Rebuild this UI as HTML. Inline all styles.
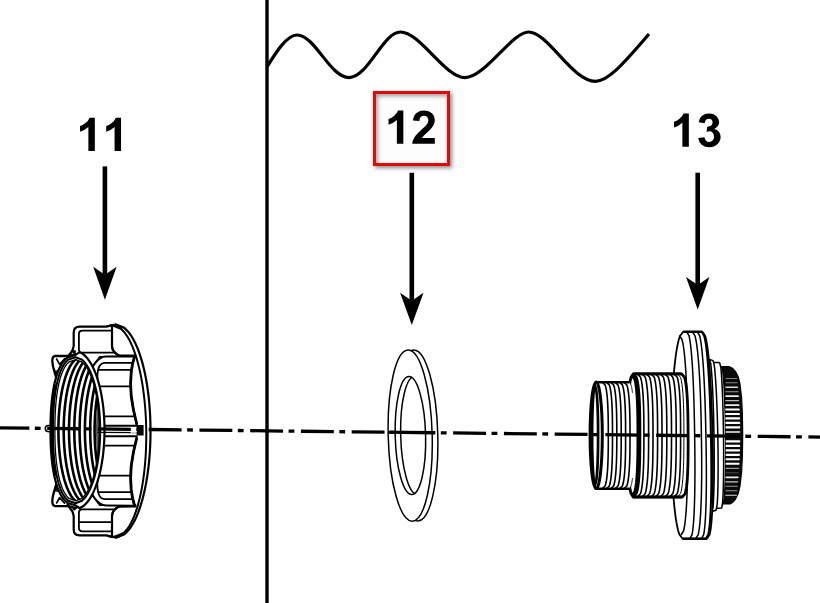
<!DOCTYPE html>
<html><head><meta charset="utf-8"><title>Parts diagram</title>
<style>
html,body{margin:0;padding:0;background:#fff;}
body{width:820px;height:603px;overflow:hidden;position:relative;font-family:"Liberation Sans",sans-serif;}
svg{position:absolute;left:0;top:0;display:block;}
#box{position:absolute;left:373.2px;top:90.8px;width:70.8px;height:69px;border:3.2px solid #e40808;background:#fdfdfd;
 box-shadow:1.5px 2px 4px rgba(0,0,0,.45), inset 1.5px 2px 4px rgba(0,0,0,.4);}
</style></head><body>
<svg width="820" height="603" viewBox="0 0 820 603">
<rect x="0" y="0" width="820" height="603" fill="#fefefe"/>
<line x1="267" y1="0" x2="267" y2="603" stroke="#000" stroke-width="3.4"/>
<path d="M267,67 C276,52 287,35 297,35 C315,35 330,77.6 349,77.6 C368,77.6 383,32 400.5,32 C420,32 445,77.6 465,77.6 C485,77.6 512,32 528.5,32 C548,32 572,81.3 595.5,81.3 C607,81.3 620,68 649,34" fill="none" stroke="#000" stroke-width="3.2" stroke-linecap="butt"/>
<line x1="104.9" y1="166.4" x2="104.9" y2="274.7" stroke="#000" stroke-width="4.6"/>
<path d="M93.2,266.7 L104.9,274.7 L116.6,266.7 L104.9,299.8Z" fill="#000"/>
<line x1="411.8" y1="172.7" x2="411.8" y2="300.7" stroke="#000" stroke-width="4.6"/>
<path d="M400.1,292.7 L411.8,300.7 L423.5,292.7 L411.8,325.1Z" fill="#000"/>
<line x1="697.7" y1="172.7" x2="697.7" y2="285.1" stroke="#000" stroke-width="4.6"/>
<path d="M686,277.1 L697.7,285.1 L709.4,277.1 L697.7,309.6Z" fill="#000"/>
<g transform="rotate(-1.44 410.3 435.6)" fill="none" stroke="#000" stroke-width="1.5">
<ellipse cx="415.8" cy="435.6" rx="22" ry="85.6" fill="#fff"/>
<ellipse cx="410.2" cy="435.6" rx="22" ry="85.6" fill="#fff"/>
<clipPath id="rc"><ellipse cx="410.4" cy="435.6" rx="15.2" ry="59"/></clipPath>
<ellipse cx="410.4" cy="435.6" rx="15.2" ry="59" fill="#fff"/>
<ellipse cx="415.9" cy="435.6" rx="15.2" ry="59" clip-path="url(#rc)"/>
</g>
<g fill="none" stroke="#000" stroke-width="1.4" stroke-linejoin="round">
<path d="M713.2,362.4 L718.6,362.4 L719.8,363.2 L720.77,367.22 L721.18,371.24 L721.5,375.27 L721.76,379.29 L721.99,383.31 L722.19,387.33 L722.37,391.36 L722.53,395.38 L722.67,399.4 L722.81,403.42 L722.93,407.44 L723.04,411.47 L723.14,415.49 L723.23,419.51 L723.31,423.53 L723.38,427.56 L723.45,431.58 L723.5,435.6 L723.55,439.62 L723.58,443.64 L723.61,447.67 L723.63,451.69 L723.64,455.71 L723.64,459.73 L723.63,463.76 L723.61,467.78 L723.57,471.8 L723.53,475.82 L723.47,479.84 L723.39,483.87 L723.29,487.89 L723.16,491.91 L723,495.93 L722.78,499.96 L722.47,503.98 L721.6,508 L716.2,508.2Z" fill="#fff" stroke-width="1.5"/>
<path d="M709.6,359.4 L710.72,363.62 L711.2,367.85 L711.57,372.07 L711.88,376.3 L712.15,380.52 L712.39,384.75 L712.6,388.97 L712.79,393.2 L712.97,397.42 L713.13,401.65 L713.28,405.88 L713.42,410.1 L713.54,414.32 L713.65,418.55 L713.76,422.77 L713.85,427 L713.93,431.22 L714,435.45 L714.06,439.68 L714.11,443.9 L714.16,448.12 L714.19,452.35 L714.21,456.57 L714.22,460.8 L714.21,465.02 L714.2,469.25 L714.17,473.48 L714.13,477.7 L714.07,481.93 L713.99,486.15 L713.88,490.38 L713.74,494.6 L713.57,498.82 L713.33,503.05 L712.99,507.27 L712,511.5 L716,510.2 L717,506.04 L717.35,501.89 L717.57,497.73 L717.74,493.58 L717.87,489.42 L717.96,485.27 L718.03,481.11 L718.08,476.96 L718.11,472.8 L718.12,468.64 L718.12,464.49 L718.11,460.33 L718.09,456.18 L718.05,452.02 L718,447.87 L717.95,443.71 L717.88,439.56 L717.8,435.4 L717.71,431.24 L717.61,427.09 L717.5,422.93 L717.38,418.78 L717.25,414.62 L717.11,410.47 L716.96,406.31 L716.79,402.16 L716.61,398 L716.41,393.84 L716.2,389.69 L715.96,385.53 L715.7,381.38 L715.41,377.22 L715.07,373.07 L714.68,368.91 L714.17,364.76 L713,360.6Z" fill="#fff" stroke-width="1.5"/>
<path d="M721.4,366.6 L722.53,370.41 L723,374.23 L723.35,378.04 L723.64,381.86 L723.89,385.67 L724.11,389.48 L724.3,393.3 L724.48,397.11 L724.63,400.93 L724.77,404.74 L724.9,408.55 L725.01,412.37 L725.11,416.18 L725.2,419.99 L725.28,423.81 L725.35,427.62 L725.4,431.44 L725.45,435.25 L725.49,439.06 L725.51,442.88 L725.53,446.69 L725.53,450.51 L725.53,454.32 L725.51,458.13 L725.48,461.95 L725.44,465.76 L725.38,469.57 L725.31,473.39 L725.22,477.2 L725.11,481.02 L724.97,484.83 L724.81,488.64 L724.6,492.46 L724.33,496.27 L723.94,500.09 L722.9,503.9 L730,503.9 L732.5,502.5 L735.5,499 L738,494 L740,486 L741.6,472 L742.4,455 L742.7,435 L742.4,415 L741.6,398 L740,384 L738,376.2 L735.5,371.6 L732.5,368.2 L729,366.6Z" fill="#0a0a0a" stroke="#000" stroke-width="1.2"/>
<clipPath id="capc"><path d="M721.4,366.6 L722.53,370.41 L723,374.23 L723.35,378.04 L723.64,381.86 L723.89,385.67 L724.11,389.48 L724.3,393.3 L724.48,397.11 L724.63,400.93 L724.77,404.74 L724.9,408.55 L725.01,412.37 L725.11,416.18 L725.2,419.99 L725.28,423.81 L725.35,427.62 L725.4,431.44 L725.45,435.25 L725.49,439.06 L725.51,442.88 L725.53,446.69 L725.53,450.51 L725.53,454.32 L725.51,458.13 L725.48,461.95 L725.44,465.76 L725.38,469.57 L725.31,473.39 L725.22,477.2 L725.11,481.02 L724.97,484.83 L724.81,488.64 L724.6,492.46 L724.33,496.27 L723.94,500.09 L722.9,503.9 L730,503.9 L732.5,502.5 L735.5,499 L738,494 L740,486 L741.6,472 L742.4,455 L742.7,435 L742.4,415 L741.6,398 L740,384 L738,376.2 L735.5,371.6 L732.5,368.2 L729,366.6Z"/></clipPath>
<g clip-path="url(#capc)" stroke="none">
<rect x="725.2" y="426.15" width="15.05" height="2.3" fill="#fff" rx="0.8"/>
<rect x="725.2" y="421.7" width="14.97" height="2.3" fill="#fff" rx="0.8"/>
<rect x="725.2" y="417.3" width="14.85" height="2.2" fill="#fff" rx="0.8"/>
<rect x="725.2" y="412.9" width="14.7" height="2.1" fill="#fff" rx="0.8"/>
<rect x="725.2" y="408.5" width="14.51" height="2" fill="#fff" rx="0.8"/>
<rect x="725.2" y="404.15" width="14.29" height="1.8" fill="#eee" rx="0.8"/>
<rect x="725.2" y="399.9" width="14.03" height="1.4" fill="#bbb" rx="0.8"/>
<rect x="725.2" y="395.35" width="13.74" height="1.6" fill="#eee" rx="0.8"/>
<rect x="725.2" y="391.2" width="13.41" height="1" fill="#999" rx="0.8"/>
<rect x="725.2" y="386.55" width="13.05" height="1.4" fill="#ddd" rx="0.8"/>
<rect x="725.2" y="382.35" width="12.65" height="0.9" fill="#888" rx="0.8"/>
<rect x="725.2" y="377.95" width="12.21" height="0.8" fill="#aaa" rx="0.8"/>
<rect x="725.2" y="440.15" width="15.06" height="2.3" fill="#fff" rx="0.8"/>
<rect x="725.2" y="444.65" width="15" height="2.3" fill="#fff" rx="0.8"/>
<rect x="725.2" y="449.15" width="14.89" height="2.3" fill="#fff" rx="0.8"/>
<rect x="725.2" y="453.7" width="14.75" height="2.2" fill="#fff" rx="0.8"/>
<rect x="725.2" y="458.25" width="14.57" height="2.1" fill="#fff" rx="0.8"/>
<rect x="725.2" y="462.85" width="14.35" height="1.9" fill="#fff" rx="0.8"/>
<rect x="725.2" y="467.65" width="14.1" height="1.3" fill="#999" rx="0.8"/>
<rect x="725.2" y="472.4" width="13.81" height="0.8" fill="#666" rx="0.8"/>
<rect x="725.2" y="476.45" width="13.49" height="1.7" fill="#eee" rx="0.8"/>
<rect x="725.2" y="481.2" width="13.13" height="1.2" fill="#ccc" rx="0.8"/>
<rect x="725.2" y="485.85" width="12.73" height="0.9" fill="#999" rx="0.8"/>
<rect x="725.2" y="490.35" width="12.3" height="0.9" fill="#999" rx="0.8"/>
<rect x="725.2" y="494.8" width="11.83" height="1" fill="#ddd" rx="0.8"/>
<rect x="725.2" y="431.15" width="15.09" height="1.5" fill="#f4f4f4" rx="0.8"/>
</g>
<path d="M683.2,331.8 L679.97,335.94 L678.67,340.08 L677.7,344.21 L676.91,348.35 L676.24,352.49 L675.65,356.63 L675.14,360.77 L674.67,364.9 L674.26,369.04 L673.88,373.18 L673.54,377.32 L673.23,381.46 L672.96,385.59 L672.71,389.73 L672.48,393.87 L672.28,398.01 L672.1,402.15 L671.94,406.28 L671.81,410.42 L671.69,414.56 L671.6,418.7 L671.52,422.84 L671.46,426.97 L671.42,431.11 L671.4,435.25 L671.4,439.39 L671.41,443.53 L671.45,447.66 L671.5,451.8 L671.57,455.94 L671.66,460.08 L671.78,464.22 L671.91,468.35 L672.06,472.49 L672.24,476.63 L672.44,480.77 L672.67,484.91 L672.92,489.04 L673.2,493.18 L673.52,497.32 L673.87,501.46 L674.26,505.6 L674.7,509.73 L675.2,513.87 L675.76,518.01 L676.41,522.15 L677.17,526.29 L678.12,530.42 L679.39,534.56 L682.6,538.7 L707,538.7 L709.64,534.56 L710.47,530.42 L711.03,526.29 L711.45,522.15 L711.79,518.01 L712.06,513.87 L712.28,509.73 L712.46,505.6 L712.6,501.46 L712.72,497.32 L712.82,493.18 L712.89,489.04 L712.94,484.91 L712.97,480.77 L712.99,476.63 L713,472.49 L712.98,468.35 L712.96,464.22 L712.92,460.08 L712.88,455.94 L712.82,451.8 L712.75,447.66 L712.67,443.53 L712.59,439.39 L712.5,435.25 L712.41,431.11 L712.31,426.97 L712.2,422.84 L712.08,418.7 L711.96,414.56 L711.82,410.42 L711.67,406.28 L711.51,402.15 L711.34,398.01 L711.15,393.87 L710.95,389.73 L710.73,385.59 L710.5,381.46 L710.24,377.32 L709.96,373.18 L709.66,369.04 L709.33,364.9 L708.96,360.77 L708.56,356.63 L708.11,352.49 L707.59,348.35 L706.98,344.21 L706.24,340.08 L705.22,335.94 L702.4,331.8Z" fill="#fff" stroke-width="1.8"/>
<path d="M683.2,331.8 L702.4,331.8 M682.6,538.7 L707,538.7" stroke-width="2.4"/>
<path d="M679.4,335.5 L682.02,339.49 L682.93,343.48 L683.58,347.47 L684.1,351.46 L684.54,355.45 L684.91,359.44 L685.24,363.43 L685.53,367.42 L685.79,371.41 L686.02,375.4 L686.23,379.39 L686.42,383.38 L686.59,387.37 L686.74,391.36 L686.87,395.35 L687,399.34 L687.1,403.33 L687.2,407.32 L687.29,411.31 L687.36,415.3 L687.42,419.29 L687.48,423.28 L687.53,427.27 L687.57,431.26 L687.6,435.25 L687.63,439.24 L687.65,443.23 L687.67,447.22 L687.68,451.21 L687.68,455.2 L687.67,459.19 L687.65,463.18 L687.62,467.17 L687.57,471.16 L687.51,475.15 L687.44,479.14 L687.35,483.13 L687.25,487.12 L687.13,491.11 L686.98,495.1 L686.81,499.09 L686.62,503.08 L686.39,507.07 L686.13,511.06 L685.82,515.05 L685.44,519.04 L684.99,523.03 L684.4,527.02 L683.56,531.01 L681,535" stroke-width="1.5"/>
<path d="M686.8,331.8 L689.07,335.94 L689.87,340.08 L690.46,344.21 L690.94,348.35 L691.35,352.49 L691.7,356.63 L692.02,360.77 L692.3,364.9 L692.55,369.04 L692.79,373.18 L693,377.32 L693.19,381.46 L693.37,385.59 L693.53,389.73 L693.68,393.87 L693.82,398.01 L693.95,402.15 L694.07,406.28 L694.17,410.42 L694.27,414.56 L694.36,418.7 L694.44,422.84 L694.52,426.97 L694.59,431.11 L694.65,435.25 L694.71,439.39 L694.77,443.53 L694.82,447.66 L694.86,451.8 L694.89,455.94 L694.92,460.08 L694.94,464.22 L694.94,468.35 L694.94,472.49 L694.92,476.63 L694.9,480.77 L694.86,484.91 L694.8,489.04 L694.73,493.18 L694.65,497.32 L694.54,501.46 L694.41,505.6 L694.25,509.73 L694.06,513.87 L693.83,518.01 L693.54,522.15 L693.19,526.29 L692.73,530.42 L692.05,534.56 L689.9,538.7" stroke-width="1.5"/>
<path d="M692.4,331.8 L695.04,335.94 L695.97,340.08 L696.65,344.21 L697.2,348.35 L697.67,352.49 L698.08,356.63 L698.44,360.77 L698.76,364.9 L699.05,369.04 L699.32,373.18 L699.56,377.32 L699.78,381.46 L699.98,385.59 L700.17,389.73 L700.34,393.87 L700.49,398.01 L700.63,402.15 L700.76,406.28 L700.88,410.42 L700.99,414.56 L701.09,418.7 L701.18,422.84 L701.26,426.97 L701.33,431.11 L701.4,435.25 L701.46,439.39 L701.52,443.53 L701.57,447.66 L701.62,451.8 L701.65,455.94 L701.67,460.08 L701.69,464.22 L701.69,468.35 L701.68,472.49 L701.66,476.63 L701.62,480.77 L701.57,484.91 L701.5,489.04 L701.41,493.18 L701.3,497.32 L701.17,501.46 L701.01,505.6 L700.82,509.73 L700.59,513.87 L700.31,518.01 L699.98,522.15 L699.56,526.29 L699.01,530.42 L698.21,534.56 L695.7,538.7" stroke-width="1.5"/>
<path d="M697.4,331.8 L699.74,335.94 L700.58,340.08 L701.21,344.21 L701.71,348.35 L702.15,352.49 L702.53,356.63 L702.87,360.77 L703.18,364.9 L703.46,369.04 L703.71,373.18 L703.95,377.32 L704.17,381.46 L704.37,385.59 L704.55,389.73 L704.73,393.87 L704.89,398.01 L705.04,402.15 L705.17,406.28 L705.3,410.42 L705.42,414.56 L705.53,418.7 L705.63,422.84 L705.73,426.97 L705.82,431.11 L705.9,435.25 L705.98,439.39 L706.06,443.53 L706.12,447.66 L706.19,451.8 L706.24,455.94 L706.29,460.08 L706.32,464.22 L706.35,468.35 L706.36,472.49 L706.37,476.63 L706.36,480.77 L706.34,484.91 L706.3,489.04 L706.24,493.18 L706.17,497.32 L706.08,501.46 L705.96,505.6 L705.82,509.73 L705.64,513.87 L705.43,518.01 L705.16,522.15 L704.81,526.29 L704.36,530.42 L703.68,534.56 L701.5,538.7" stroke-width="1.5"/>
<path d="M701.6,331.8 L704.21,335.94 L705.14,340.08 L705.82,344.21 L706.38,348.35 L706.86,352.49 L707.28,356.63 L707.65,360.77 L707.99,364.9 L708.29,369.04 L708.57,373.18 L708.83,377.32 L709.06,381.46 L709.28,385.59 L709.48,389.73 L709.67,393.87 L709.84,398.01 L710,402.15 L710.14,406.28 L710.28,410.42 L710.4,414.56 L710.52,418.7 L710.62,422.84 L710.72,426.97 L710.81,431.11 L710.9,435.25 L710.98,439.39 L711.06,443.53 L711.13,447.66 L711.19,451.8 L711.24,455.94 L711.29,460.08 L711.32,464.22 L711.34,468.35 L711.35,472.49 L711.35,476.63 L711.33,480.77 L711.3,484.91 L711.25,489.04 L711.18,493.18 L711.09,497.32 L710.98,501.46 L710.84,505.6 L710.68,509.73 L710.47,513.87 L710.22,518.01 L709.91,522.15 L709.52,526.29 L709,530.42 L708.24,534.56 L705.8,538.7" stroke-width="2.0"/>
<path d="M633.2,373.9 L681.6,373.9 L684.63,377.32 L685.46,380.74 L686.02,384.16 L686.44,387.58 L686.77,391 L687.03,394.42 L687.25,397.84 L687.43,401.26 L687.58,404.67 L687.7,408.09 L687.8,411.51 L687.88,414.93 L687.94,418.35 L687.99,421.77 L688.03,425.19 L688.06,428.61 L688.08,432.03 L688.1,435.45 L688.12,438.87 L688.13,442.29 L688.13,445.71 L688.13,449.13 L688.11,452.55 L688.08,455.97 L688.03,459.39 L687.97,462.81 L687.88,466.23 L687.76,469.64 L687.62,473.06 L687.43,476.48 L687.2,479.9 L686.9,483.32 L686.52,486.74 L686,490.16 L685.2,493.58 L682.2,497 L633.2,497 L633.2,497 L631.06,493.58 L630.22,490.16 L629.61,486.74 L629.11,483.32 L628.7,479.9 L628.36,476.48 L628.05,473.06 L627.8,469.64 L627.57,466.23 L627.38,462.81 L627.21,459.39 L627.07,455.97 L626.96,452.55 L626.86,449.13 L626.79,445.71 L626.74,442.29 L626.71,438.87 L626.7,435.45 L626.71,432.03 L626.74,428.61 L626.79,425.19 L626.86,421.77 L626.96,418.35 L627.07,414.93 L627.21,411.51 L627.38,408.09 L627.57,404.67 L627.8,401.26 L628.05,397.84 L628.36,394.42 L628.7,391 L629.11,387.58 L629.61,384.16 L630.22,380.74 L631.06,377.32 L633.2,373.9Z" fill="#fff" stroke-width="2.8"/>
<path d="M633.2,373.9 L681.6,373.9 M633.2,497 L682.2,497" stroke-width="2.6"/>
<path d="M632.4,374.9 L635.56,378.26 L636.42,381.63 L636.98,384.99 L637.4,388.36 L637.73,391.72 L637.99,395.08 L638.2,398.45 L638.37,401.81 L638.51,405.17 L638.62,408.54 L638.71,411.9 L638.77,415.27 L638.82,418.63 L638.86,421.99 L638.88,425.36 L638.89,428.72 L638.9,432.09 L638.9,435.45 L638.9,438.81 L638.89,442.18 L638.88,445.54 L638.86,448.91 L638.82,452.27 L638.77,455.63 L638.71,459 L638.62,462.36 L638.51,465.73 L638.37,469.09 L638.2,472.45 L637.99,475.82 L637.73,479.18 L637.4,482.54 L636.98,485.91 L636.42,489.27 L635.56,492.64 L632.4,496" stroke-width="4.8"/>
<path d="M637.4,373.9 L640.56,377.32 L641.42,380.74 L641.98,384.16 L642.4,387.58 L642.73,391 L642.99,394.42 L643.2,397.84 L643.37,401.26 L643.51,404.67 L643.62,408.09 L643.71,411.51 L643.77,414.93 L643.82,418.35 L643.86,421.77 L643.88,425.19 L643.89,428.61 L643.9,432.03 L643.9,435.45 L643.9,438.87 L643.89,442.29 L643.88,445.71 L643.86,449.13 L643.82,452.55 L643.77,455.97 L643.71,459.39 L643.62,462.81 L643.51,466.23 L643.37,469.64 L643.2,473.06 L642.99,476.48 L642.73,479.9 L642.4,483.32 L641.98,486.74 L641.42,490.16 L640.56,493.58 L637.4,497" stroke-width="1.6"/>
<path d="M642.1,373.9 L645.26,377.32 L646.12,380.74 L646.68,384.16 L647.1,387.58 L647.43,391 L647.69,394.42 L647.9,397.84 L648.07,401.26 L648.21,404.67 L648.32,408.09 L648.41,411.51 L648.47,414.93 L648.52,418.35 L648.56,421.77 L648.58,425.19 L648.59,428.61 L648.6,432.03 L648.6,435.45 L648.6,438.87 L648.59,442.29 L648.58,445.71 L648.56,449.13 L648.52,452.55 L648.47,455.97 L648.41,459.39 L648.32,462.81 L648.21,466.23 L648.07,469.64 L647.9,473.06 L647.69,476.48 L647.43,479.9 L647.1,483.32 L646.68,486.74 L646.12,490.16 L645.26,493.58 L642.1,497" stroke-width="1.6"/>
<path d="M646.5,373.9 L649.66,377.32 L650.52,380.74 L651.08,384.16 L651.5,387.58 L651.83,391 L652.09,394.42 L652.3,397.84 L652.47,401.26 L652.61,404.67 L652.72,408.09 L652.81,411.51 L652.87,414.93 L652.92,418.35 L652.96,421.77 L652.98,425.19 L652.99,428.61 L653,432.03 L653,435.45 L653,438.87 L652.99,442.29 L652.98,445.71 L652.96,449.13 L652.92,452.55 L652.87,455.97 L652.81,459.39 L652.72,462.81 L652.61,466.23 L652.47,469.64 L652.3,473.06 L652.09,476.48 L651.83,479.9 L651.5,483.32 L651.08,486.74 L650.52,490.16 L649.66,493.58 L646.5,497" stroke-width="1.6"/>
<path d="M651.1,373.9 L654.26,377.32 L655.12,380.74 L655.68,384.16 L656.1,387.58 L656.43,391 L656.69,394.42 L656.9,397.84 L657.07,401.26 L657.21,404.67 L657.32,408.09 L657.41,411.51 L657.47,414.93 L657.52,418.35 L657.56,421.77 L657.58,425.19 L657.59,428.61 L657.6,432.03 L657.6,435.45 L657.6,438.87 L657.59,442.29 L657.58,445.71 L657.56,449.13 L657.52,452.55 L657.47,455.97 L657.41,459.39 L657.32,462.81 L657.21,466.23 L657.07,469.64 L656.9,473.06 L656.69,476.48 L656.43,479.9 L656.1,483.32 L655.68,486.74 L655.12,490.16 L654.26,493.58 L651.1,497" stroke-width="1.6"/>
<path d="M655.5,373.9 L658.66,377.32 L659.52,380.74 L660.08,384.16 L660.5,387.58 L660.83,391 L661.09,394.42 L661.3,397.84 L661.47,401.26 L661.61,404.67 L661.72,408.09 L661.81,411.51 L661.87,414.93 L661.92,418.35 L661.96,421.77 L661.98,425.19 L661.99,428.61 L662,432.03 L662,435.45 L662,438.87 L661.99,442.29 L661.98,445.71 L661.96,449.13 L661.92,452.55 L661.87,455.97 L661.81,459.39 L661.72,462.81 L661.61,466.23 L661.47,469.64 L661.3,473.06 L661.09,476.48 L660.83,479.9 L660.5,483.32 L660.08,486.74 L659.52,490.16 L658.66,493.58 L655.5,497" stroke-width="1.6"/>
<path d="M660.3,373.9 L663.46,377.32 L664.32,380.74 L664.88,384.16 L665.3,387.58 L665.63,391 L665.89,394.42 L666.1,397.84 L666.27,401.26 L666.41,404.67 L666.52,408.09 L666.61,411.51 L666.67,414.93 L666.72,418.35 L666.76,421.77 L666.78,425.19 L666.79,428.61 L666.8,432.03 L666.8,435.45 L666.8,438.87 L666.79,442.29 L666.78,445.71 L666.76,449.13 L666.72,452.55 L666.67,455.97 L666.61,459.39 L666.52,462.81 L666.41,466.23 L666.27,469.64 L666.1,473.06 L665.89,476.48 L665.63,479.9 L665.3,483.32 L664.88,486.74 L664.32,490.16 L663.46,493.58 L660.3,497" stroke-width="1.6"/>
<path d="M665,373.9 L668.16,377.32 L669.02,380.74 L669.58,384.16 L670,387.58 L670.33,391 L670.59,394.42 L670.8,397.84 L670.97,401.26 L671.11,404.67 L671.22,408.09 L671.31,411.51 L671.37,414.93 L671.42,418.35 L671.46,421.77 L671.48,425.19 L671.49,428.61 L671.5,432.03 L671.5,435.45 L671.5,438.87 L671.49,442.29 L671.48,445.71 L671.46,449.13 L671.42,452.55 L671.37,455.97 L671.31,459.39 L671.22,462.81 L671.11,466.23 L670.97,469.64 L670.8,473.06 L670.59,476.48 L670.33,479.9 L670,483.32 L669.58,486.74 L669.02,490.16 L668.16,493.58 L665,497" stroke-width="1.6"/>
<path d="M669.7,373.9 L672.86,377.32 L673.72,380.74 L674.28,384.16 L674.7,387.58 L675.03,391 L675.29,394.42 L675.5,397.84 L675.67,401.26 L675.81,404.67 L675.92,408.09 L676.01,411.51 L676.07,414.93 L676.12,418.35 L676.16,421.77 L676.18,425.19 L676.19,428.61 L676.2,432.03 L676.2,435.45 L676.2,438.87 L676.19,442.29 L676.18,445.71 L676.16,449.13 L676.12,452.55 L676.07,455.97 L676.01,459.39 L675.92,462.81 L675.81,466.23 L675.67,469.64 L675.5,473.06 L675.29,476.48 L675.03,479.9 L674.7,483.32 L674.28,486.74 L673.72,490.16 L672.86,493.58 L669.7,497" stroke-width="1.6"/>
<path d="M674.1,373.9 L677.26,377.32 L678.12,380.74 L678.68,384.16 L679.1,387.58 L679.43,391 L679.69,394.42 L679.9,397.84 L680.07,401.26 L680.21,404.67 L680.32,408.09 L680.41,411.51 L680.47,414.93 L680.52,418.35 L680.56,421.77 L680.58,425.19 L680.59,428.61 L680.6,432.03 L680.6,435.45 L680.6,438.87 L680.59,442.29 L680.58,445.71 L680.56,449.13 L680.52,452.55 L680.47,455.97 L680.41,459.39 L680.32,462.81 L680.21,466.23 L680.07,469.64 L679.9,473.06 L679.69,476.48 L679.43,479.9 L679.1,483.32 L678.68,486.74 L678.12,490.16 L677.26,493.58 L674.1,497" stroke-width="1.6"/>
<path d="M677.4,373.9 L680.56,377.32 L681.42,380.74 L681.98,384.16 L682.4,387.58 L682.73,391 L682.99,394.42 L683.2,397.84 L683.37,401.26 L683.51,404.67 L683.62,408.09 L683.71,411.51 L683.77,414.93 L683.82,418.35 L683.86,421.77 L683.88,425.19 L683.89,428.61 L683.9,432.03 L683.9,435.45 L683.9,438.87 L683.89,442.29 L683.88,445.71 L683.86,449.13 L683.82,452.55 L683.77,455.97 L683.71,459.39 L683.62,462.81 L683.51,466.23 L683.37,469.64 L683.2,473.06 L682.99,476.48 L682.73,479.9 L682.4,483.32 L681.98,486.74 L681.42,490.16 L680.56,493.58 L677.4,497" stroke-width="1.0"/>
<path d="M596,382.2 L628.6,382.2 L631.52,385.16 L632.31,388.12 L632.83,391.07 L633.22,394.03 L633.52,396.99 L633.76,399.95 L633.95,402.91 L634.11,405.87 L634.24,408.82 L634.34,411.78 L634.42,414.74 L634.48,417.7 L634.53,420.66 L634.56,423.62 L634.58,426.57 L634.59,429.53 L634.6,432.49 L634.6,435.45 L634.6,438.41 L634.59,441.37 L634.58,444.32 L634.56,447.28 L634.53,450.24 L634.48,453.2 L634.42,456.16 L634.34,459.12 L634.24,462.07 L634.11,465.03 L633.95,467.99 L633.76,470.95 L633.52,473.91 L633.22,476.87 L632.83,479.82 L632.31,482.78 L631.52,485.74 L628.6,488.7 L596,488.7Z" fill="#fff" stroke="none"/>
<path d="M596,382.2 L629,382.2 M596,488.7 L629,488.7" stroke-width="2.6"/>
<path d="M602.3,382.2 L605.22,385.16 L606.01,388.12 L606.53,391.07 L606.92,394.03 L607.22,396.99 L607.46,399.95 L607.65,402.91 L607.81,405.87 L607.94,408.82 L608.04,411.78 L608.12,414.74 L608.18,417.7 L608.23,420.66 L608.26,423.62 L608.28,426.57 L608.29,429.53 L608.3,432.49 L608.3,435.45 L608.3,438.41 L608.29,441.37 L608.28,444.32 L608.26,447.28 L608.23,450.24 L608.18,453.2 L608.12,456.16 L608.04,459.12 L607.94,462.07 L607.81,465.03 L607.65,467.99 L607.46,470.95 L607.22,473.91 L606.92,476.87 L606.53,479.82 L606.01,482.78 L605.22,485.74 L602.3,488.7" stroke-width="1.6"/>
<path d="M606.5,382.2 L609.42,385.16 L610.21,388.12 L610.73,391.07 L611.12,394.03 L611.42,396.99 L611.66,399.95 L611.85,402.91 L612.01,405.87 L612.14,408.82 L612.24,411.78 L612.32,414.74 L612.38,417.7 L612.43,420.66 L612.46,423.62 L612.48,426.57 L612.49,429.53 L612.5,432.49 L612.5,435.45 L612.5,438.41 L612.49,441.37 L612.48,444.32 L612.46,447.28 L612.43,450.24 L612.38,453.2 L612.32,456.16 L612.24,459.12 L612.14,462.07 L612.01,465.03 L611.85,467.99 L611.66,470.95 L611.42,473.91 L611.12,476.87 L610.73,479.82 L610.21,482.78 L609.42,485.74 L606.5,488.7" stroke-width="1.6"/>
<path d="M610.8,382.2 L613.72,385.16 L614.51,388.12 L615.03,391.07 L615.42,394.03 L615.72,396.99 L615.96,399.95 L616.15,402.91 L616.31,405.87 L616.44,408.82 L616.54,411.78 L616.62,414.74 L616.68,417.7 L616.73,420.66 L616.76,423.62 L616.78,426.57 L616.79,429.53 L616.8,432.49 L616.8,435.45 L616.8,438.41 L616.79,441.37 L616.78,444.32 L616.76,447.28 L616.73,450.24 L616.68,453.2 L616.62,456.16 L616.54,459.12 L616.44,462.07 L616.31,465.03 L616.15,467.99 L615.96,470.95 L615.72,473.91 L615.42,476.87 L615.03,479.82 L614.51,482.78 L613.72,485.74 L610.8,488.7" stroke-width="1.6"/>
<path d="M615.2,382.2 L618.12,385.16 L618.91,388.12 L619.43,391.07 L619.82,394.03 L620.12,396.99 L620.36,399.95 L620.55,402.91 L620.71,405.87 L620.84,408.82 L620.94,411.78 L621.02,414.74 L621.08,417.7 L621.13,420.66 L621.16,423.62 L621.18,426.57 L621.19,429.53 L621.2,432.49 L621.2,435.45 L621.2,438.41 L621.19,441.37 L621.18,444.32 L621.16,447.28 L621.13,450.24 L621.08,453.2 L621.02,456.16 L620.94,459.12 L620.84,462.07 L620.71,465.03 L620.55,467.99 L620.36,470.95 L620.12,473.91 L619.82,476.87 L619.43,479.82 L618.91,482.78 L618.12,485.74 L615.2,488.7" stroke-width="1.6"/>
<path d="M619.6,382.2 L622.52,385.16 L623.31,388.12 L623.83,391.07 L624.22,394.03 L624.52,396.99 L624.76,399.95 L624.95,402.91 L625.11,405.87 L625.24,408.82 L625.34,411.78 L625.42,414.74 L625.48,417.7 L625.53,420.66 L625.56,423.62 L625.58,426.57 L625.59,429.53 L625.6,432.49 L625.6,435.45 L625.6,438.41 L625.59,441.37 L625.58,444.32 L625.56,447.28 L625.53,450.24 L625.48,453.2 L625.42,456.16 L625.34,459.12 L625.24,462.07 L625.11,465.03 L624.95,467.99 L624.76,470.95 L624.52,473.91 L624.22,476.87 L623.83,479.82 L623.31,482.78 L622.52,485.74 L619.6,488.7" stroke-width="1.6"/>
<path d="M624,382.2 L626.92,385.16 L627.71,388.12 L628.23,391.07 L628.62,394.03 L628.92,396.99 L629.16,399.95 L629.35,402.91 L629.51,405.87 L629.64,408.82 L629.74,411.78 L629.82,414.74 L629.88,417.7 L629.93,420.66 L629.96,423.62 L629.98,426.57 L629.99,429.53 L630,432.49 L630,435.45 L630,438.41 L629.99,441.37 L629.98,444.32 L629.96,447.28 L629.93,450.24 L629.88,453.2 L629.82,456.16 L629.74,459.12 L629.64,462.07 L629.51,465.03 L629.35,467.99 L629.16,470.95 L628.92,473.91 L628.62,476.87 L628.23,479.82 L627.71,482.78 L626.92,485.74 L624,488.7" stroke-width="1.6"/>
<path d="M628.4,382.2 L629.56,382.5 L629.9,382.79 L630.13,383.09 L630.33,383.38 L630.49,383.68 L630.63,383.97 L630.76,384.27 L630.87,384.57 L630.98,384.86 L631.08,385.16 L631.17,385.45 L631.25,385.75 L631.33,386.05 L631.41,386.34 L631.48,386.64 L631.55,386.93 L631.62,387.23 L631.68,387.52 L631.74,387.82 L631.8,388.12 L631.85,388.41 L631.91,388.71 L631.96,389 L632.01,389.3 L632.06,389.6 L632.1,389.89 L632.15,390.19 L632.19,390.48 L632.23,390.78 L632.28,391.07 L632.32,391.37 L632.36,391.67 L632.39,391.96 L632.43,392.26 L632.47,392.55 L632.5,392.85" stroke-width="1.0"/>
<path d="M632.5,478.05 L632.47,478.35 L632.43,478.64 L632.39,478.94 L632.36,479.23 L632.32,479.53 L632.28,479.82 L632.23,480.12 L632.19,480.42 L632.15,480.71 L632.1,481.01 L632.06,481.3 L632.01,481.6 L631.96,481.9 L631.91,482.19 L631.85,482.49 L631.8,482.78 L631.74,483.08 L631.68,483.38 L631.62,483.67 L631.55,483.97 L631.48,484.26 L631.41,484.56 L631.33,484.85 L631.25,485.15 L631.17,485.45 L631.08,485.74 L630.98,486.04 L630.87,486.33 L630.76,486.63 L630.63,486.93 L630.49,487.22 L630.33,487.52 L630.13,487.81 L629.9,488.11 L629.56,488.4 L628.4,488.7" stroke-width="1.0"/>
<ellipse cx="596.2" cy="435.3" rx="6.1" ry="53.3" fill="#fff" stroke-width="3.0"/>
<ellipse cx="595.1" cy="435.3" rx="3.0" ry="49.8" stroke-width="2.7"/>
</g>
<g fill="none" stroke="#000" stroke-width="1.9" stroke-linejoin="round" stroke-linecap="round">
<path d="M115.4,324.3 L124.36,327.86 L127.97,331.41 L130.67,334.97 L132.87,338.53 L134.76,342.08 L136.42,345.64 L137.89,349.2 L139.22,352.75 L140.42,356.31 L141.52,359.87 L142.52,363.42 L143.44,366.98 L144.28,370.54 L145.05,374.09 L145.76,377.65 L146.41,381.21 L147,384.76 L147.54,388.32 L148.03,391.88 L148.46,395.43 L148.86,398.99 L149.21,402.55 L149.51,406.1 L149.77,409.66 L149.99,413.22 L150.17,416.77 L150.31,420.33 L150.42,423.89 L150.48,427.44 L150.5,431 L150.48,434.56 L150.43,438.11 L150.33,441.67 L150.2,445.23 L150.03,448.78 L149.81,452.34 L149.56,455.9 L149.26,459.45 L148.92,463.01 L148.53,466.57 L148.1,470.12 L147.62,473.68 L147.09,477.24 L146.5,480.79 L145.86,484.35 L145.16,487.91 L144.39,491.46 L143.56,495.02 L142.65,498.58 L141.65,502.13 L140.56,505.69 L139.37,509.25 L138.05,512.8 L136.58,516.36 L134.93,519.92 L133.05,523.47 L130.85,527.03 L128.16,530.59 L124.56,534.14 L115.6,537.7 L112,537.7 L112,324.3Z" fill="#fff" stroke="none"/>
<path d="M115.4,324.3 L124.36,327.86 L127.97,331.41 L130.67,334.97 L132.87,338.53 L134.76,342.08 L136.42,345.64 L137.89,349.2 L139.22,352.75 L140.42,356.31 L141.52,359.87 L142.52,363.42 L143.44,366.98 L144.28,370.54 L145.05,374.09 L145.76,377.65 L146.41,381.21 L147,384.76 L147.54,388.32 L148.03,391.88 L148.46,395.43 L148.86,398.99 L149.21,402.55 L149.51,406.1 L149.77,409.66 L149.99,413.22 L150.17,416.77 L150.31,420.33 L150.42,423.89 L150.48,427.44 L150.5,431 L150.48,434.56 L150.43,438.11 L150.33,441.67 L150.2,445.23 L150.03,448.78 L149.81,452.34 L149.56,455.9 L149.26,459.45 L148.92,463.01 L148.53,466.57 L148.1,470.12 L147.62,473.68 L147.09,477.24 L146.5,480.79 L145.86,484.35 L145.16,487.91 L144.39,491.46 L143.56,495.02 L142.65,498.58 L141.65,502.13 L140.56,505.69 L139.37,509.25 L138.05,512.8 L136.58,516.36 L134.93,519.92 L133.05,523.47 L130.85,527.03 L128.16,530.59 L124.56,534.14 L115.6,537.7" stroke-width="2.2"/>
<path d="M113,325.5 L121.23,329.02 L124.57,332.53 L127.07,336.05 L129.13,339.57 L130.9,343.08 L132.45,346.6 L133.84,350.12 L135.09,353.63 L136.23,357.15 L137.27,360.67 L138.22,364.18 L139.1,367.7 L139.91,371.22 L140.65,374.73 L141.34,378.25 L141.97,381.77 L142.55,385.28 L143.08,388.8 L143.56,392.32 L144,395.83 L144.4,399.35 L144.76,402.87 L145.08,406.38 L145.35,409.9 L145.59,413.42 L145.8,416.93 L145.96,420.45 L146.1,423.97 L146.19,427.48 L146.25,431 L146.27,434.52 L146.26,438.03 L146.21,441.55 L146.13,445.07 L146.01,448.58 L145.85,452.1 L145.66,455.62 L145.42,459.13 L145.15,462.65 L144.84,466.17 L144.48,469.68 L144.08,473.2 L143.63,476.72 L143.14,480.23 L142.59,483.75 L141.99,487.27 L141.32,490.78 L140.6,494.3 L139.81,497.82 L138.93,501.33 L137.98,504.85 L136.92,508.37 L135.75,511.88 L134.45,515.4 L132.98,518.92 L131.3,522.43 L129.32,525.95 L126.91,529.47 L123.65,532.98 L115.5,536.5" stroke-width="2.0"/>
<path d="M106.5,326.4 Q110,324.6 113.5,324.3 L121,327.3 Q116,325.6 112,325.8Z" fill="#000" stroke-width="1.2"/>
<path d="M108,536.5 Q112,537.9 117.6,537.7 L124,534.3 Q118,536.6 112,536.4Z" fill="#000" stroke-width="1.2"/>
<g id="nuthalf"><path d="M67,356.5 Q72.5,353 73.7,346 L73.7,332.5 Q73.7,326.6 79.6,326.6 L106.3,326.6 L112,325.4 L112,346.3 Q112.6,352.5 119,355.4 L135.3,355.6 L135.3,357 L100,357 L92.3,367.5 L76,354 Z" fill="#fff" stroke-width="2.2"/>
<path d="M111.6,330.7 L82.4,330.7 Q78.9,330.7 78.9,334.2 L78.9,349.2 Q78.9,352.7 82.4,352.7 L115.5,352.7" stroke-width="1.8"/>
<path d="M112,325.4 L112,346.3 Q112.6,352.5 119,355.4" stroke-width="2.0"/>
<path d="M92.3,367.6 Q96,361 100.5,358.2 Q102.5,356.6 106,356.6 L134.6,356.2 Q132.2,364 131.2,372 Q130,384 131.2,396 Q133,410 136.6,423.5 L136.6,425.8 L90,425.8 Z" fill="#fff" stroke-width="2.0"/>
<path d="M134.6,356.2 Q132.2,364 131.2,372 Q130,384 131.2,396 Q133,410 136.6,423.5" stroke-width="2.8"/>
<path d="M131.6,362.9 L104.4,362.9 Q99.5,363.4 98.1,369.9 Q96.4,377.9 98.4,386.6" stroke-width="1.8"/>
<path d="M98.3,369.9 L129.9,369.9 M98.6,386.3 L130.4,386.3 M103.2,416.3 L134.2,416.3" stroke-width="1.7"/></g>
<g transform="matrix(1 0 0 -1 0 862)"><path d="M67,356.5 Q72.5,353 73.7,346 L73.7,332.5 Q73.7,326.6 79.6,326.6 L106.3,326.6 L112,325.4 L112,346.3 Q112.6,352.5 119,355.4 L135.3,355.6 L135.3,357 L100,357 L92.3,367.5 L76,354 Z" fill="#fff" stroke-width="2.2"/>
<path d="M111.6,330.7 L82.4,330.7 Q78.9,330.7 78.9,334.2 L78.9,349.2 Q78.9,352.7 82.4,352.7 L115.5,352.7" stroke-width="1.8"/>
<path d="M112,325.4 L112,346.3 Q112.6,352.5 119,355.4" stroke-width="2.0"/>
<path d="M92.3,367.6 Q96,361 100.5,358.2 Q102.5,356.6 106,356.6 L134.6,356.2 Q132.2,364 131.2,372 Q130,384 131.2,396 Q133,410 136.6,423.5 L136.6,425.8 L90,425.8 Z" fill="#fff" stroke-width="2.0"/>
<path d="M134.6,356.2 Q132.2,364 131.2,372 Q130,384 131.2,396 Q133,410 136.6,423.5" stroke-width="2.8"/>
<path d="M131.6,362.9 L104.4,362.9 Q99.5,363.4 98.1,369.9 Q96.4,377.9 98.4,386.6" stroke-width="1.8"/>
<path d="M98.3,369.9 L129.9,369.9 M98.6,386.3 L130.4,386.3 M103.2,416.3 L134.2,416.3" stroke-width="1.7"/></g>
<path d="M79,522.2 L112,522.2" stroke-width="1.7"/>
<path d="M68.5,358 L66.8,356 L55.2,355.8 Q52,356.6 52.3,361 Q52.6,366 54,370 Q56,377 59,388 L66,380 Z" fill="#fff" stroke-width="2.3"/>
<path d="M56.6,359 L59.6,364.4 L64.6,358.8" stroke-width="1.6"/>
<path d="M54.5,371.5 Q56.2,378 59.4,387 L62.5,380 L58.5,371 Z" fill="#000" stroke-width="1"/>
<g transform="matrix(1 0 0 -1 0 862)"><path d="M68.5,358 L66.8,356 L55.2,355.8 Q52,356.6 52.3,361 Q52.6,366 54,370 Q56,377 59,388 L66,380 Z" fill="#fff" stroke-width="2.3"/>
<path d="M56.6,359 L59.6,364.4 L64.6,358.8" stroke-width="1.6"/>
<path d="M54.5,371.5 Q56.2,378 59.4,387 L62.5,380 L58.5,371 Z" fill="#000" stroke-width="1"/></g>
<path d="M75.2,355.2 L79.73,352.15 L83.43,354.38 L85.85,356.61 L87.77,358.84 L89.38,361.07 L90.78,363.3 L92.03,365.53 L93.15,367.76 L94.17,369.99 L95.1,372.22 L95.96,374.45 L96.75,376.68 L97.48,378.91 L98.16,381.14 L98.8,383.37 L99.38,385.6 L99.93,387.83 L100.44,390.06 L100.91,392.29 L101.34,394.52 L101.74,396.75 L102.11,398.98 L102.46,401.21 L102.77,403.44 L103.05,405.67 L103.31,407.9 L103.54,410.13 L103.74,412.36 L103.92,414.59 L104.08,416.82 L104.21,419.05 L104.31,421.28 L104.39,423.51 L104.45,425.74 L104.49,427.97 L104.5,430.2 L104.49,432.43 L104.45,434.66 L104.39,436.89 L104.31,439.12 L104.21,441.35 L104.08,443.58 L103.92,445.81 L103.74,448.04 L103.54,450.27 L103.31,452.5 L103.05,454.73 L102.77,456.96 L102.46,459.19 L102.11,461.42 L101.74,463.65 L101.34,465.88 L100.91,468.11 L100.44,470.34 L99.93,472.57 L99.38,474.8 L98.8,477.03 L98.16,479.26 L97.48,481.49 L96.75,483.72 L95.96,485.95 L95.1,488.18 L94.17,490.41 L93.15,492.64 L92.03,494.87 L90.78,497.1 L89.38,499.33 L87.77,501.56 L85.85,503.79 L83.43,506.02 L79.73,508.25 L75.2,505.2 L75.2,505.2 L67.7,503.06 L65.14,500.91 L63.31,498.77 L61.83,496.63 L60.6,494.49 L59.53,492.34 L58.59,490.2 L57.75,488.06 L57,485.91 L56.32,483.77 L55.71,481.63 L55.15,479.49 L54.63,477.34 L54.16,475.2 L53.74,473.06 L53.35,470.91 L52.99,468.77 L52.66,466.63 L52.37,464.49 L52.1,462.34 L51.85,460.2 L51.63,458.06 L51.44,455.91 L51.26,453.77 L51.11,451.63 L50.98,449.49 L50.86,447.34 L50.77,445.2 L50.69,443.06 L50.62,440.91 L50.57,438.77 L50.54,436.63 L50.51,434.49 L50.5,432.34 L50.5,430.2 L50.5,428.06 L50.51,425.91 L50.54,423.77 L50.57,421.63 L50.62,419.49 L50.69,417.34 L50.77,415.2 L50.86,413.06 L50.98,410.91 L51.11,408.77 L51.26,406.63 L51.44,404.49 L51.63,402.34 L51.85,400.2 L52.1,398.06 L52.37,395.91 L52.66,393.77 L52.99,391.63 L53.35,389.49 L53.74,387.34 L54.16,385.2 L54.63,383.06 L55.15,380.91 L55.71,378.77 L56.32,376.63 L57,374.49 L57.75,372.34 L58.59,370.2 L59.53,368.06 L60.6,365.91 L61.83,363.77 L63.31,361.63 L65.14,359.49 L67.7,357.34 L75.2,355.2Z" fill="#fff" stroke-width="2.2"/>
<circle cx="74.2" cy="351.8" r="1.9" fill="#000" stroke="none"/>
<circle cx="74.2" cy="508.6" r="1.9" fill="#000" stroke="none"/>
<clipPath id="bore"><path d="M75.8,359.6 L81.82,361.95 L84.24,364.31 L86.04,366.66 L87.52,369.01 L88.79,371.37 L89.9,373.72 L90.89,376.07 L91.78,378.43 L92.58,380.78 L93.32,383.13 L93.99,385.49 L94.6,387.84 L95.16,390.19 L95.68,392.55 L96.15,394.9 L96.58,397.25 L96.98,399.61 L97.34,401.96 L97.66,404.31 L97.96,406.67 L98.22,409.02 L98.45,411.37 L98.65,413.73 L98.83,416.08 L98.97,418.43 L99.09,420.79 L99.18,423.14 L99.25,425.49 L99.29,427.85 L99.3,430.2 L99.29,432.55 L99.25,434.91 L99.18,437.26 L99.09,439.61 L98.97,441.97 L98.83,444.32 L98.65,446.67 L98.45,449.03 L98.22,451.38 L97.96,453.73 L97.66,456.09 L97.34,458.44 L96.98,460.79 L96.58,463.15 L96.15,465.5 L95.68,467.85 L95.16,470.21 L94.6,472.56 L93.99,474.91 L93.32,477.27 L92.58,479.62 L91.78,481.97 L90.89,484.33 L89.9,486.68 L88.79,489.03 L87.52,491.39 L86.04,493.74 L84.24,496.09 L81.82,498.45 L75.8,500.8 L75.8,500.8 L69.02,498.45 L66.73,496.09 L65.08,493.74 L63.78,491.39 L62.68,489.03 L61.75,486.68 L60.93,484.33 L60.2,481.97 L59.56,479.62 L58.98,477.27 L58.47,474.91 L58,472.56 L57.58,470.21 L57.2,467.85 L56.86,465.5 L56.56,463.15 L56.29,460.79 L56.05,458.44 L55.83,456.09 L55.64,453.73 L55.48,451.38 L55.34,449.03 L55.22,446.67 L55.13,444.32 L55.05,441.97 L54.99,439.61 L54.95,437.26 L54.92,434.91 L54.9,432.55 L54.9,430.2 L54.9,427.85 L54.92,425.49 L54.95,423.14 L54.99,420.79 L55.05,418.43 L55.13,416.08 L55.22,413.73 L55.34,411.37 L55.48,409.02 L55.64,406.67 L55.83,404.31 L56.05,401.96 L56.29,399.61 L56.56,397.25 L56.86,394.9 L57.2,392.55 L57.58,390.19 L58,387.84 L58.47,385.49 L58.98,383.13 L59.56,380.78 L60.2,378.43 L60.93,376.07 L61.75,373.72 L62.68,371.37 L63.78,369.01 L65.08,366.66 L66.73,364.31 L69.02,361.95 L75.8,359.6Z"/></clipPath>
<g clip-path="url(#bore)">
<path d="M118.6,357.2 L112.81,359.63 L110.49,362.07 L108.75,364.5 L107.33,366.93 L106.11,369.37 L105.04,371.8 L104.09,374.23 L103.23,376.67 L102.46,379.1 L101.75,381.53 L101.11,383.97 L100.52,386.4 L99.98,388.83 L99.48,391.27 L99.03,393.7 L98.61,396.13 L98.23,398.57 L97.89,401 L97.57,403.43 L97.29,405.87 L97.04,408.3 L96.82,410.73 L96.62,413.17 L96.46,415.6 L96.32,418.03 L96.2,420.47 L96.11,422.9 L96.05,425.33 L96.01,427.77 L96,430.2 L96.01,432.63 L96.05,435.07 L96.11,437.5 L96.2,439.93 L96.32,442.37 L96.46,444.8 L96.62,447.23 L96.82,449.67 L97.04,452.1 L97.29,454.53 L97.57,456.97 L97.89,459.4 L98.23,461.83 L98.61,464.27 L99.03,466.7 L99.48,469.13 L99.98,471.57 L100.52,474 L101.11,476.43 L101.75,478.87 L102.46,481.3 L103.23,483.73 L104.09,486.17 L105.04,488.6 L106.11,491.03 L107.33,493.47 L108.75,495.9 L110.49,498.33 L112.81,500.77 L118.6,503.2 L130,503.2 L130,357.2Z" fill="#555" stroke="none"/>
<path d="M81,357.2 L75.21,359.63 L72.89,362.07 L71.15,364.5 L69.73,366.93 L68.51,369.37 L67.44,371.8 L66.49,374.23 L65.63,376.67 L64.86,379.1 L64.15,381.53 L63.51,383.97 L62.92,386.4 L62.38,388.83 L61.88,391.27 L61.43,393.7 L61.01,396.13 L60.63,398.57 L60.29,401 L59.97,403.43 L59.69,405.87 L59.44,408.3 L59.22,410.73 L59.02,413.17 L58.86,415.6 L58.72,418.03 L58.6,420.47 L58.51,422.9 L58.45,425.33 L58.41,427.77 L58.4,430.2 L58.41,432.63 L58.45,435.07 L58.51,437.5 L58.6,439.93 L58.72,442.37 L58.86,444.8 L59.02,447.23 L59.22,449.67 L59.44,452.1 L59.69,454.53 L59.97,456.97 L60.29,459.4 L60.63,461.83 L61.01,464.27 L61.43,466.7 L61.88,469.13 L62.38,471.57 L62.92,474 L63.51,476.43 L64.15,478.87 L64.86,481.3 L65.63,483.73 L66.49,486.17 L67.44,488.6 L68.51,491.03 L69.73,493.47 L71.15,495.9 L72.89,498.33 L75.21,500.77 L81,503.2" stroke-width="2.6"/>
<path d="M86.3,357.2 L80.51,359.63 L78.19,362.07 L76.45,364.5 L75.03,366.93 L73.81,369.37 L72.74,371.8 L71.79,374.23 L70.93,376.67 L70.16,379.1 L69.45,381.53 L68.81,383.97 L68.22,386.4 L67.68,388.83 L67.18,391.27 L66.73,393.7 L66.31,396.13 L65.93,398.57 L65.59,401 L65.27,403.43 L64.99,405.87 L64.74,408.3 L64.52,410.73 L64.32,413.17 L64.16,415.6 L64.02,418.03 L63.9,420.47 L63.81,422.9 L63.75,425.33 L63.71,427.77 L63.7,430.2 L63.71,432.63 L63.75,435.07 L63.81,437.5 L63.9,439.93 L64.02,442.37 L64.16,444.8 L64.32,447.23 L64.52,449.67 L64.74,452.1 L64.99,454.53 L65.27,456.97 L65.59,459.4 L65.93,461.83 L66.31,464.27 L66.73,466.7 L67.18,469.13 L67.68,471.57 L68.22,474 L68.81,476.43 L69.45,478.87 L70.16,481.3 L70.93,483.73 L71.79,486.17 L72.74,488.6 L73.81,491.03 L75.03,493.47 L76.45,495.9 L78.19,498.33 L80.51,500.77 L86.3,503.2" stroke-width="2.6"/>
<path d="M91.6,357.2 L85.81,359.63 L83.49,362.07 L81.75,364.5 L80.33,366.93 L79.11,369.37 L78.04,371.8 L77.09,374.23 L76.23,376.67 L75.46,379.1 L74.75,381.53 L74.11,383.97 L73.52,386.4 L72.98,388.83 L72.48,391.27 L72.03,393.7 L71.61,396.13 L71.23,398.57 L70.89,401 L70.57,403.43 L70.29,405.87 L70.04,408.3 L69.82,410.73 L69.62,413.17 L69.46,415.6 L69.32,418.03 L69.2,420.47 L69.11,422.9 L69.05,425.33 L69.01,427.77 L69,430.2 L69.01,432.63 L69.05,435.07 L69.11,437.5 L69.2,439.93 L69.32,442.37 L69.46,444.8 L69.62,447.23 L69.82,449.67 L70.04,452.1 L70.29,454.53 L70.57,456.97 L70.89,459.4 L71.23,461.83 L71.61,464.27 L72.03,466.7 L72.48,469.13 L72.98,471.57 L73.52,474 L74.11,476.43 L74.75,478.87 L75.46,481.3 L76.23,483.73 L77.09,486.17 L78.04,488.6 L79.11,491.03 L80.33,493.47 L81.75,495.9 L83.49,498.33 L85.81,500.77 L91.6,503.2" stroke-width="2.6"/>
<path d="M96.9,357.2 L91.11,359.63 L88.79,362.07 L87.05,364.5 L85.63,366.93 L84.41,369.37 L83.34,371.8 L82.39,374.23 L81.53,376.67 L80.76,379.1 L80.05,381.53 L79.41,383.97 L78.82,386.4 L78.28,388.83 L77.78,391.27 L77.33,393.7 L76.91,396.13 L76.53,398.57 L76.19,401 L75.87,403.43 L75.59,405.87 L75.34,408.3 L75.12,410.73 L74.92,413.17 L74.76,415.6 L74.62,418.03 L74.5,420.47 L74.41,422.9 L74.35,425.33 L74.31,427.77 L74.3,430.2 L74.31,432.63 L74.35,435.07 L74.41,437.5 L74.5,439.93 L74.62,442.37 L74.76,444.8 L74.92,447.23 L75.12,449.67 L75.34,452.1 L75.59,454.53 L75.87,456.97 L76.19,459.4 L76.53,461.83 L76.91,464.27 L77.33,466.7 L77.78,469.13 L78.28,471.57 L78.82,474 L79.41,476.43 L80.05,478.87 L80.76,481.3 L81.53,483.73 L82.39,486.17 L83.34,488.6 L84.41,491.03 L85.63,493.47 L87.05,495.9 L88.79,498.33 L91.11,500.77 L96.9,503.2" stroke-width="2.6"/>
<path d="M102.2,357.2 L96.41,359.63 L94.09,362.07 L92.35,364.5 L90.93,366.93 L89.71,369.37 L88.64,371.8 L87.69,374.23 L86.83,376.67 L86.06,379.1 L85.35,381.53 L84.71,383.97 L84.12,386.4 L83.58,388.83 L83.08,391.27 L82.63,393.7 L82.21,396.13 L81.83,398.57 L81.49,401 L81.17,403.43 L80.89,405.87 L80.64,408.3 L80.42,410.73 L80.22,413.17 L80.06,415.6 L79.92,418.03 L79.8,420.47 L79.71,422.9 L79.65,425.33 L79.61,427.77 L79.6,430.2 L79.61,432.63 L79.65,435.07 L79.71,437.5 L79.8,439.93 L79.92,442.37 L80.06,444.8 L80.22,447.23 L80.42,449.67 L80.64,452.1 L80.89,454.53 L81.17,456.97 L81.49,459.4 L81.83,461.83 L82.21,464.27 L82.63,466.7 L83.08,469.13 L83.58,471.57 L84.12,474 L84.71,476.43 L85.35,478.87 L86.06,481.3 L86.83,483.73 L87.69,486.17 L88.64,488.6 L89.71,491.03 L90.93,493.47 L92.35,495.9 L94.09,498.33 L96.41,500.77 L102.2,503.2" stroke-width="2.6"/>
<path d="M107.5,357.2 L101.71,359.63 L99.39,362.07 L97.65,364.5 L96.23,366.93 L95.01,369.37 L93.94,371.8 L92.99,374.23 L92.13,376.67 L91.36,379.1 L90.65,381.53 L90.01,383.97 L89.42,386.4 L88.88,388.83 L88.38,391.27 L87.93,393.7 L87.51,396.13 L87.13,398.57 L86.79,401 L86.47,403.43 L86.19,405.87 L85.94,408.3 L85.72,410.73 L85.52,413.17 L85.36,415.6 L85.22,418.03 L85.1,420.47 L85.01,422.9 L84.95,425.33 L84.91,427.77 L84.9,430.2 L84.91,432.63 L84.95,435.07 L85.01,437.5 L85.1,439.93 L85.22,442.37 L85.36,444.8 L85.52,447.23 L85.72,449.67 L85.94,452.1 L86.19,454.53 L86.47,456.97 L86.79,459.4 L87.13,461.83 L87.51,464.27 L87.93,466.7 L88.38,469.13 L88.88,471.57 L89.42,474 L90.01,476.43 L90.65,478.87 L91.36,481.3 L92.13,483.73 L92.99,486.17 L93.94,488.6 L95.01,491.03 L96.23,493.47 L97.65,495.9 L99.39,498.33 L101.71,500.77 L107.5,503.2" stroke-width="2.6"/>
<path d="M112.8,357.2 L107.01,359.63 L104.69,362.07 L102.95,364.5 L101.53,366.93 L100.31,369.37 L99.24,371.8 L98.29,374.23 L97.43,376.67 L96.66,379.1 L95.95,381.53 L95.31,383.97 L94.72,386.4 L94.18,388.83 L93.68,391.27 L93.23,393.7 L92.81,396.13 L92.43,398.57 L92.09,401 L91.77,403.43 L91.49,405.87 L91.24,408.3 L91.02,410.73 L90.82,413.17 L90.66,415.6 L90.52,418.03 L90.4,420.47 L90.31,422.9 L90.25,425.33 L90.21,427.77 L90.2,430.2 L90.21,432.63 L90.25,435.07 L90.31,437.5 L90.4,439.93 L90.52,442.37 L90.66,444.8 L90.82,447.23 L91.02,449.67 L91.24,452.1 L91.49,454.53 L91.77,456.97 L92.09,459.4 L92.43,461.83 L92.81,464.27 L93.23,466.7 L93.68,469.13 L94.18,471.57 L94.72,474 L95.31,476.43 L95.95,478.87 L96.66,481.3 L97.43,483.73 L98.29,486.17 L99.24,488.6 L100.31,491.03 L101.53,493.47 L102.95,495.9 L104.69,498.33 L107.01,500.77 L112.8,503.2" stroke-width="2.6"/>
<path d="M117.2,357.2 L111.41,359.63 L109.09,362.07 L107.35,364.5 L105.93,366.93 L104.71,369.37 L103.64,371.8 L102.69,374.23 L101.83,376.67 L101.06,379.1 L100.35,381.53 L99.71,383.97 L99.12,386.4 L98.58,388.83 L98.08,391.27 L97.63,393.7 L97.21,396.13 L96.83,398.57 L96.49,401 L96.17,403.43 L95.89,405.87 L95.64,408.3 L95.42,410.73 L95.22,413.17 L95.06,415.6 L94.92,418.03 L94.8,420.47 L94.71,422.9 L94.65,425.33 L94.61,427.77 L94.6,430.2 L94.61,432.63 L94.65,435.07 L94.71,437.5 L94.8,439.93 L94.92,442.37 L95.06,444.8 L95.22,447.23 L95.42,449.67 L95.64,452.1 L95.89,454.53 L96.17,456.97 L96.49,459.4 L96.83,461.83 L97.21,464.27 L97.63,466.7 L98.08,469.13 L98.58,471.57 L99.12,474 L99.71,476.43 L100.35,478.87 L101.06,481.3 L101.83,483.73 L102.69,486.17 L103.64,488.6 L104.71,491.03 L105.93,493.47 L107.35,495.9 L109.09,498.33 L111.41,500.77 L117.2,503.2" stroke-width="2.6"/>
</g>
<path d="M75.8,359.6 L81.82,361.95 L84.24,364.31 L86.04,366.66 L87.52,369.01 L88.79,371.37 L89.9,373.72 L90.89,376.07 L91.78,378.43 L92.58,380.78 L93.32,383.13 L93.99,385.49 L94.6,387.84 L95.16,390.19 L95.68,392.55 L96.15,394.9 L96.58,397.25 L96.98,399.61 L97.34,401.96 L97.66,404.31 L97.96,406.67 L98.22,409.02 L98.45,411.37 L98.65,413.73 L98.83,416.08 L98.97,418.43 L99.09,420.79 L99.18,423.14 L99.25,425.49 L99.29,427.85 L99.3,430.2 L99.29,432.55 L99.25,434.91 L99.18,437.26 L99.09,439.61 L98.97,441.97 L98.83,444.32 L98.65,446.67 L98.45,449.03 L98.22,451.38 L97.96,453.73 L97.66,456.09 L97.34,458.44 L96.98,460.79 L96.58,463.15 L96.15,465.5 L95.68,467.85 L95.16,470.21 L94.6,472.56 L93.99,474.91 L93.32,477.27 L92.58,479.62 L91.78,481.97 L90.89,484.33 L89.9,486.68 L88.79,489.03 L87.52,491.39 L86.04,493.74 L84.24,496.09 L81.82,498.45 L75.8,500.8 L75.8,500.8 L69.02,498.45 L66.73,496.09 L65.08,493.74 L63.78,491.39 L62.68,489.03 L61.75,486.68 L60.93,484.33 L60.2,481.97 L59.56,479.62 L58.98,477.27 L58.47,474.91 L58,472.56 L57.58,470.21 L57.2,467.85 L56.86,465.5 L56.56,463.15 L56.29,460.79 L56.05,458.44 L55.83,456.09 L55.64,453.73 L55.48,451.38 L55.34,449.03 L55.22,446.67 L55.13,444.32 L55.05,441.97 L54.99,439.61 L54.95,437.26 L54.92,434.91 L54.9,432.55 L54.9,430.2 L54.9,427.85 L54.92,425.49 L54.95,423.14 L54.99,420.79 L55.05,418.43 L55.13,416.08 L55.22,413.73 L55.34,411.37 L55.48,409.02 L55.64,406.67 L55.83,404.31 L56.05,401.96 L56.29,399.61 L56.56,397.25 L56.86,394.9 L57.2,392.55 L57.58,390.19 L58,387.84 L58.47,385.49 L58.98,383.13 L59.56,380.78 L60.2,378.43 L60.93,376.07 L61.75,373.72 L62.68,371.37 L63.78,369.01 L65.08,366.66 L66.73,364.31 L69.02,361.95 L75.8,359.6Z" stroke-width="1.3"/>
<path d="M75.6,357.2 L81.9,359.63 L84.43,362.07 L86.32,364.5 L87.87,366.93 L89.2,369.37 L90.36,371.8 L91.39,374.23 L92.32,376.67 L93.17,379.1 L93.94,381.53 L94.64,383.97 L95.28,386.4 L95.87,388.83 L96.41,391.27 L96.9,393.7 L97.36,396.13 L97.77,398.57 L98.15,401 L98.49,403.43 L98.79,405.87 L99.07,408.3 L99.31,410.73 L99.52,413.17 L99.7,415.6 L99.86,418.03 L99.98,420.47 L100.08,422.9 L100.15,425.33 L100.19,427.77 L100.2,430.2 L100.19,432.63 L100.15,435.07 L100.08,437.5 L99.98,439.93 L99.86,442.37 L99.7,444.8 L99.52,447.23 L99.31,449.67 L99.07,452.1 L98.79,454.53 L98.49,456.97 L98.15,459.4 L97.77,461.83 L97.36,464.27 L96.9,466.7 L96.41,469.13 L95.87,471.57 L95.28,474 L94.64,476.43 L93.94,478.87 L93.17,481.3 L92.32,483.73 L91.39,486.17 L90.36,488.6 L89.2,491.03 L87.87,493.47 L86.32,495.9 L84.43,498.33 L81.9,500.77 L75.6,503.2 L75.6,503.2 L68.27,500.77 L65.79,498.33 L64.01,495.9 L62.6,493.47 L61.42,491.03 L60.4,488.6 L59.52,486.17 L58.74,483.73 L58.04,481.3 L57.42,478.87 L56.86,476.43 L56.35,474 L55.9,471.57 L55.49,469.13 L55.12,466.7 L54.79,464.27 L54.5,461.83 L54.24,459.4 L54.01,456.97 L53.8,454.53 L53.63,452.1 L53.48,449.67 L53.35,447.23 L53.24,444.8 L53.16,442.37 L53.1,439.93 L53.05,437.5 L53.02,435.07 L53,432.63 L53,430.2 L53,427.77 L53.02,425.33 L53.05,422.9 L53.1,420.47 L53.16,418.03 L53.24,415.6 L53.35,413.17 L53.48,410.73 L53.63,408.3 L53.8,405.87 L54.01,403.43 L54.24,401 L54.5,398.57 L54.79,396.13 L55.12,393.7 L55.49,391.27 L55.9,388.83 L56.35,386.4 L56.86,383.97 L57.42,381.53 L58.04,379.1 L58.74,376.67 L59.52,374.23 L60.4,371.8 L61.42,369.37 L62.6,366.93 L64.01,364.5 L65.79,362.07 L68.27,359.63 L75.6,357.2Z" stroke-width="2.0"/>
<path d="M55.3,386.04 L55.01,387.51 L54.74,388.98 L54.48,390.46 L54.24,391.93 L54.02,393.4 L53.81,394.87 L53.61,396.34 L53.43,397.82 L53.25,399.29 L53.09,400.76 L52.94,402.23 L52.81,403.7 L52.68,405.18 L52.56,406.65 L52.46,408.12 L52.36,409.59 L52.27,411.06 L52.19,412.54 L52.12,414.01 L52.06,415.48 L52,416.95 L51.95,418.42 L51.91,419.9 L51.88,421.37 L51.85,422.84 L51.83,424.31 L51.82,425.78 L51.81,427.26 L51.8,428.73 L51.8,430.2 L51.8,431.67 L51.81,433.14 L51.82,434.62 L51.83,436.09 L51.85,437.56 L51.88,439.03 L51.91,440.5 L51.95,441.98 L52,443.45 L52.06,444.92 L52.12,446.39 L52.19,447.86 L52.27,449.34 L52.36,450.81 L52.46,452.28 L52.56,453.75 L52.68,455.22 L52.81,456.7 L52.94,458.17 L53.09,459.64 L53.25,461.11 L53.43,462.58 L53.61,464.06 L53.81,465.53 L54.02,467 L54.24,468.47 L54.48,469.94 L54.74,471.42 L55.01,472.89 L55.3,474.36" stroke-width="3.0"/>
<circle cx="48.4" cy="428.6" r="3.1" fill="#fff" stroke-width="1.5"/>
<path d="M98,432.3 L141,432.6" stroke-width="1.3"/>
<rect x="136.6" y="425" width="7" height="10.5" fill="#000" stroke="none"/>
<rect x="130.6" y="428.6" width="6" height="4.2" fill="#fff" stroke="none"/>
</g>
<path transform="translate(76.3 150.9) scale(0.023 -0.02255)" d="M806 0H525V1059Q371 915 162 846V1101Q272 1137 401 1237.5Q530 1338 578 1472H806V0Z" fill="#000"/>
<path transform="translate(102.5 150.9) scale(0.023 -0.02255)" d="M806 0H525V1059Q371 915 162 846V1101Q272 1137 401 1237.5Q530 1338 578 1472H806V0Z" fill="#000"/>
<path transform="translate(670.3 146.7) scale(0.023 -0.02255)" d="M806 0H525V1059Q371 915 162 846V1101Q272 1137 401 1237.5Q530 1338 578 1472H806V0Z" fill="#000"/>
<path transform="translate(696.5 146.7) scale(0.023 -0.02255)" d="M75 389L347 422Q360 318 417 263Q474 208 555 208Q642 208 701.5 274Q761 340 761 452Q761 558 704 620Q647 682 565 682Q511 682 436 661L467 890Q581 887 641 939.5Q701 992 701 1079Q701 1153 657 1197Q613 1241 540 1241Q468 1241 417 1191Q366 1141 355 1045L96 1089Q123 1222 177.5 1301.5Q232 1381 329.5 1426.5Q427 1472 548 1472Q755 1472 880 1340Q983 1232 983 1096Q983 903 772 788Q898 761 973.5 667Q1049 573 1049 440Q1049 247 908 111Q767 -25 557 -25Q358 -25 227 89.5Q96 204 75 389Z" fill="#000"/>
<line x1="-3.55" y1="427.8" x2="830" y2="437.2" stroke="#000" stroke-width="3.3" stroke-dasharray="32.9 5.5 5.8 6.55"/>
<line x1="388.5" y1="432.2" x2="403.5" y2="432.35" stroke="#000" stroke-width="3.1"/>
</svg>
<div id="box"></div>
<svg width="820" height="603" viewBox="0 0 820 603" style="pointer-events:none">
<path transform="translate(384.8 143.8) scale(0.023 -0.02255)" d="M806 0H525V1059Q371 915 162 846V1101Q272 1137 401 1237.5Q530 1338 578 1472H806V0Z" fill="#000"/>
<path transform="translate(411 143.8) scale(0.023 -0.02255)" d="M1036 261V0H51Q67 148 147 280.5Q227 413 463 632Q653 809 696 872Q754 959 754 1044Q754 1138 703.5 1188.5Q653 1239 564 1239Q476 1239 424 1186Q372 1133 364 1010L84 1038Q109 1270 241 1371Q373 1472 571 1472Q788 1472 912 1355Q1036 1238 1036 1064Q1036 965 1000.5 875.5Q965 786 888 688Q837 623 704 501Q571 379 535.5 339Q500 299 478 261H1036Z" fill="#000"/>
</svg>
</body></html>
